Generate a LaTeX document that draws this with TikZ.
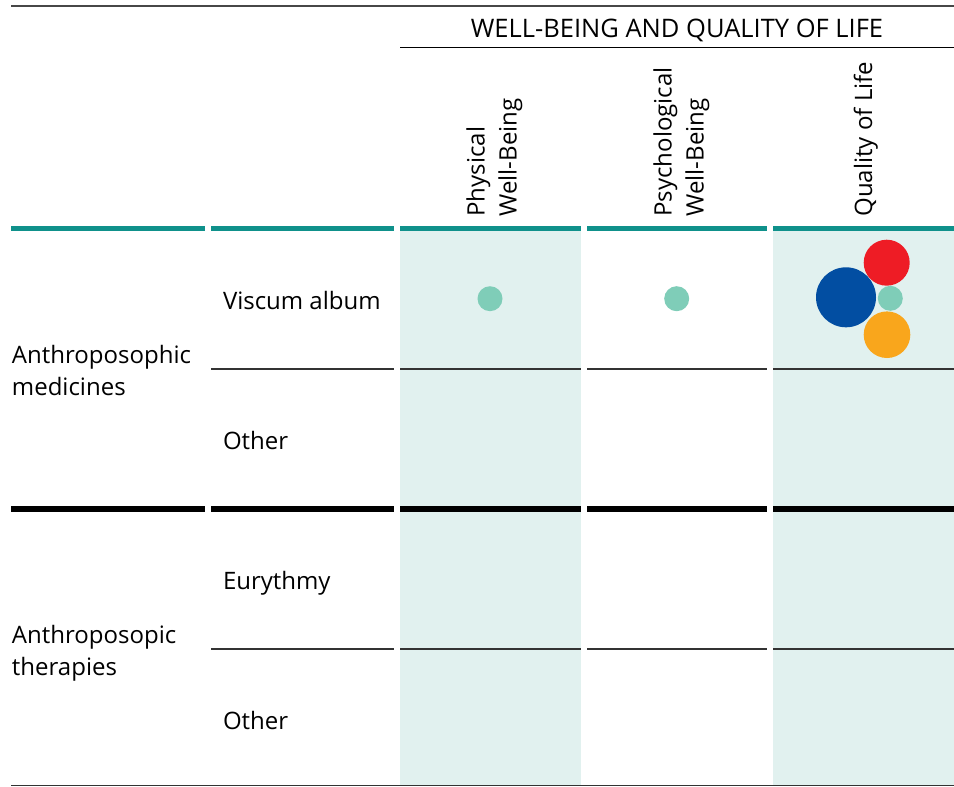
\documentclass[tikz,border=0pt]{standalone}
\usepackage{fontspec}
\setmainfont{Open Sans}
\definecolor{tealline}{HTML}{0F918B}
\definecolor{shade}{HTML}{E1F1EF}
\definecolor{dotteal}{HTML}{7FCDB8}
\definecolor{cred}{HTML}{EE1C25}
\definecolor{cblue}{HTML}{024EA2}
\definecolor{corange}{HTML}{F9A61C}
\definecolor{rule}{HTML}{333333}
\tikzset{
  lbl/.style={inner sep=0pt, outer sep=0pt, font=\fontsize{24}{32}\selectfont, text=black},
  vlbl/.style={lbl, rotate=90, anchor=base west, align=left},
  hdr/.style={inner sep=0pt, outer sep=0pt, font=\fontsize{25.5}{30}\selectfont, text=black},
  tealrule/.style={draw=tealline, line width=5pt},
  blackrule/.style={draw=black, line width=5.5pt},
  thinrule/.style={draw=rule, line width=1.4pt},
  shadebox/.style={fill=shade, draw=none},
  dot/.style={circle, inner sep=0pt, outer sep=0pt, draw=none}
}
\begin{document}
\begin{tikzpicture}[x=1pt,y=-1pt]
\useasboundingbox (0,0) rectangle (954,787);
% shaded columns
\fill[shadebox] (400,231) rectangle (581,786);
\fill[shadebox] (773,231) rectangle (954,786);
% top rules
\draw[thinrule, draw=rule!90] (11,6) -- (954,6);
\draw[black, line width=1.2pt] (400,47.3) -- (954,47.3);
\node[hdr, anchor=base] (hdr) at (677,37.3) {WELL-BEING AND QUALITY OF LIFE};
% column headers (anchor = baseline of the last line)
\node[vlbl] (phys) at (516.7,216.5) {Physical\\Well-Being};
\node[vlbl] (psych) at (703.5,216.5) {Psychological\\Well-Being};
\node[vlbl] (qol) at (872,216.5) {Quality of Life};
% thick rules
\foreach \a/\b in {11/205,211/394,400/581,587/767,773/954}{
  \draw[tealrule] (\a,228.5) -- (\b,228.5);
  \draw[blackrule] (\a,509) -- (\b,509);
}
% thin row rules
\foreach \a/\b in {211/394,400/581,587/767,773/954}{
  \draw[thinrule] (\a,369) -- (\b,369);
  \draw[thinrule] (\a,649) -- (\b,649);
}
\draw[thinrule] (11,785.7) -- (954,785.7);
% row labels
\node[lbl, anchor=base west, align=left] (am) at (12,395.3) {Anthroposophic\\medicines};
\node[lbl, anchor=base west] (va) at (223,309.3) {Viscum album};
\node[lbl, anchor=base west] (o1) at (223,449) {Other};
\node[lbl, anchor=base west, align=left] (at) at (12,675.3) {Anthroposopic\\therapies};
\node[lbl, anchor=base west] (eu) at (223,589.3) {Eurythmy};
\node[lbl, anchor=base west] (o2) at (223,729) {Other};
% bubbles
\node[dot, fill=dotteal, minimum size=25pt] (d1) at (490,298.7) {};
\node[dot, fill=dotteal, minimum size=25pt] (d2) at (676.7,298.7) {};
\node[dot, fill=cblue, minimum size=60pt] (b1) at (846,297.3) {};
\node[dot, fill=cred, minimum size=46pt] (b2) at (886.7,262.7) {};
\node[dot, fill=corange, minimum size=46.6pt] (b3) at (887,334.7) {};
\node[dot, fill=dotteal, minimum size=25pt] (b4) at (890.3,298.3) {};
\end{tikzpicture}
\end{document}
